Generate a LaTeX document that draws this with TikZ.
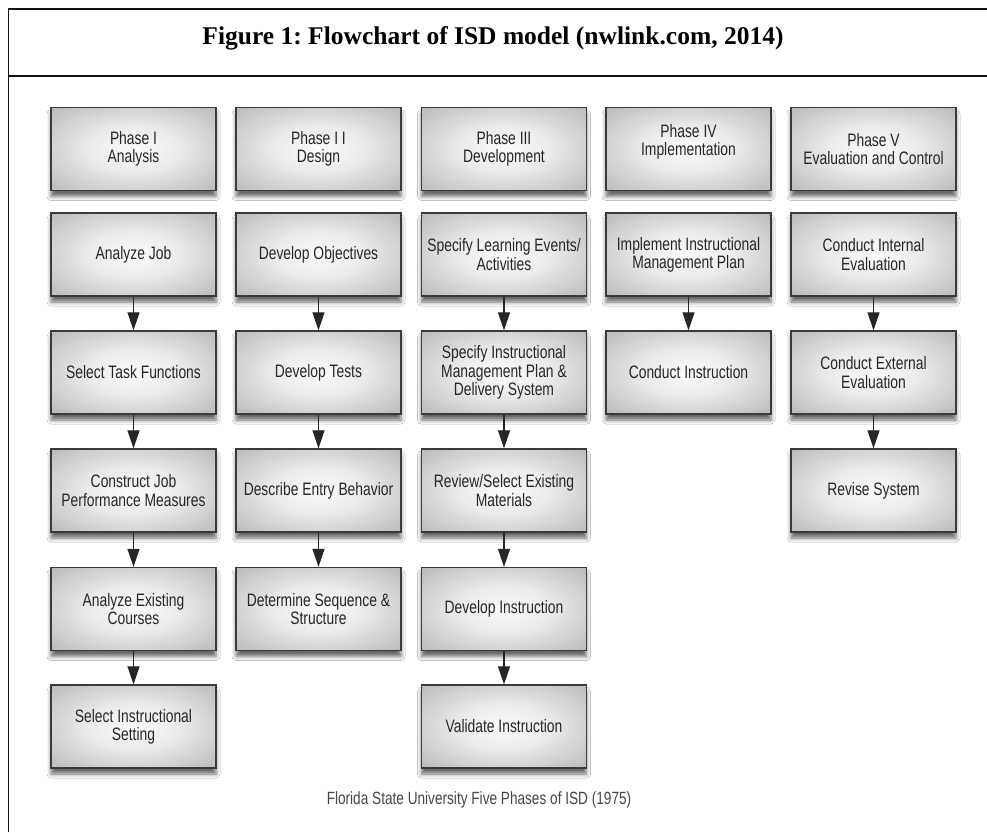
\documentclass[tikz,border=0pt]{standalone}
\usepackage{fontspec}
\setmainfont{Liberation Serif}
\newfontfamily\boxfont[FakeStretch=0.77]{Liberation Sans}
\usetikzlibrary{arrows.meta,shadows.blur}
\definecolor{framec}{HTML}{111111}
\definecolor{boxedge}{HTML}{3A3A3A}
\definecolor{boxtext}{HTML}{262626}
\pgfdeclareradialshading{boxshade}{\pgfpoint{0bp}{0bp}}{color(0bp)=(white!98!black); color(14bp)=(white!92!black); color(50bp)=(black!40)}
\tikzset{
  stepbox/.style={draw=boxedge, line width=1.3pt, minimum width=165pt, minimum height=83pt,
    inner sep=0pt, align=center, shading=boxshade, text=boxtext,
    font=\boxfont\fontsize{18}{18.3}\selectfont,
    blur shadow={shadow xshift=0pt, shadow yshift=-6pt, shadow blur radius=4pt, shadow opacity=60}},
  flow/.style={line width=1.1pt, draw=black!85, -{Triangle[length=18pt,width=12pt]}},
  frameline/.style={line width=1.6pt, draw=framec},
}
\begin{document}
\frenchspacing
\begin{tikzpicture}[x=1pt,y=-1pt]
\useasboundingbox (0,0) rectangle (987,832);
\fill[white] (0,0) rectangle (987,832);
% frame
\draw[frameline] (8.5,832) -- (8.5,9) -- (987,9);
\draw[frameline] (8.5,76) -- (987,76);
\node[font=\bfseries\fontsize{25.5}{30}\selectfont, anchor=base] (title) at (493,45) {Figure 1: Flowchart of ISD model (nwlink.com, 2014)};
% column 1
\node[stepbox] (p1) at (133.5,149) {Phase I\\Analysis};
\node[stepbox] (a1) at (133.5,254.5) {Analyze Job};
\node[stepbox] (a2) at (133.5,372.5) {Select Task Functions};
\node[stepbox] (a3) at (133.5,490.5) {Construct Job\\Performance Measures};
\node[stepbox] (a4) at (133.5,609) {Analyze Existing\\Courses};
\node[stepbox] (a5) at (133.5,726.5) {Select Instructional\\Setting};
% column 2
\node[stepbox] (p2) at (318.5,149) {Phase I I\\Design};
\node[stepbox] (b1) at (318.5,254.5) {Develop Objectives};
\node[stepbox] (b2) at (318.5,372.5) {Develop Tests};
\node[stepbox] (b3) at (318.5,490.5) {Describe Entry Behavior};
\node[stepbox] (b4) at (318.5,609) {Determine Sequence \&\\Structure};
% column 3
\node[stepbox] (p3) at (504,149) {Phase III\\Development};
\node[stepbox] (c1) at (504,254.5) {Specify Learning Events/\\Activities};
\node[stepbox] (c2) at (504,372.5) {Specify Instructional\\Management Plan \&\\Delivery System};
\node[stepbox] (c3) at (504,490.5) {Review/Select Existing\\Materials};
\node[stepbox] (c4) at (504,609) {Develop Instruction};
\node[stepbox] (c5) at (504,726.5) {Validate Instruction};
% column 4
\node[stepbox] (p4) at (688.5,149) {Phase IV\\Implementation\\\mbox{}};
\node[stepbox] (d1) at (688.5,254.5) {Implement Instructional\\Management Plan};
\node[stepbox] (d2) at (688.5,372.5) {Conduct Instruction};
% column 5
\node[stepbox] (p5) at (873.5,149) {Phase V\\Evaluation and Control};
\node[stepbox] (e1) at (873.5,254.5) {Conduct Internal\\Evaluation};
\node[stepbox] (e2) at (873.5,372.5) {Conduct External\\Evaluation};
\node[stepbox] (e3) at (873.5,490.5) {Revise System};
% arrows
\draw[flow] (a1.south) -- (a2.north);
\draw[flow] (a2.south) -- (a3.north);
\draw[flow] (a3.south) -- (a4.north);
\draw[flow] (a4.south) -- (a5.north);
\draw[flow] (b1.south) -- (b2.north);
\draw[flow] (b2.south) -- (b3.north);
\draw[flow] (b3.south) -- (b4.north);
\draw[flow] (c1.south) -- (c2.north);
\draw[flow] (c2.south) -- (c3.north);
\draw[flow] (c3.south) -- (c4.north);
\draw[flow] (c4.south) -- (c5.north);
\draw[flow] (d1.south) -- (d2.north);
\draw[flow] (e1.south) -- (e2.north);
\draw[flow] (e2.south) -- (e3.north);
% caption
\node[font=\boxfont\fontsize{17.7}{18}\selectfont, text=black!72] (cap) at (479,800) {Florida State University Five Phases of ISD (1975)};
\end{tikzpicture}
\end{document}
